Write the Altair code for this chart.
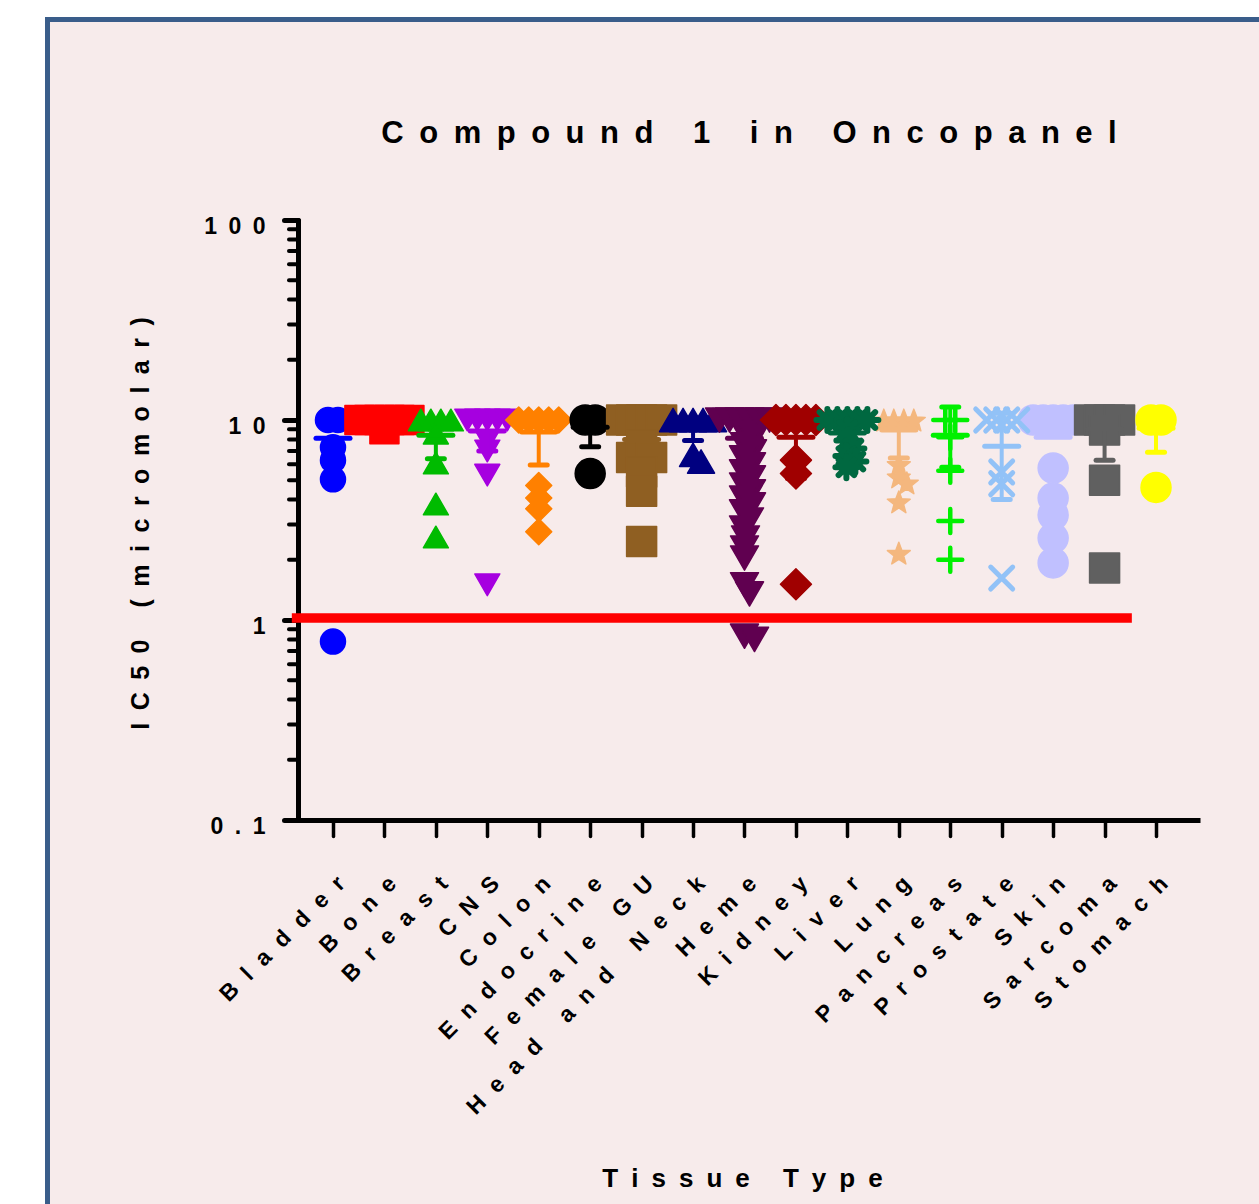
import json
import math
import altair as alt
import pandas as pd

# ---------------- data ----------------
categories = ["Bladder", "Bone", "Breast", "CNS", "Colon", "Endocrine", "Female GU",
              "Head and Neck", "Heme", "Kidney", "Liver", "Lung", "Pancreas",
              "Prostate", "Skin", "Sarcoma", "Stomach"]

bladder = [10, 10, 7.3, 6.3, 5.05, 0.78]
bone = [10, 10, 10, 10, 10, 10, 9.0]
breast = [10, 10, 10, 10, 8.6, 6.1, 3.8, 2.6]
cns = [10, 10, 10, 10, 10, 7.9, 7.0, 5.3, 1.5]
colon = [10, 10, 10, 10, 10, 4.7, 4.07, 3.6, 2.76]
endocrine = [10, 10, 5.4]
female_gu = [10, 10, 10, 10, 10, 7.5, 6.5, 6.5, 6.5, 5.5, 4.4, 2.47]
head_neck = [10, 10, 10, 10, 10, 6.7, 6.2]
heme = [10, 10, 10, 10, 10, 10, 8.6, 8.13, 7.5, 6.92, 6.46, 5.96, 5.5, 5.13, 4.73,
        4.37, 4.07, 3.76, 3.47, 3.16, 2.88, 2.57, 2.29, 2.04, 1.50, 1.35, 0.83, 0.80]
kidney = [10, 10, 10, 10, 10, 6.3, 5.4, 1.51]
liver = [10, 10, 10, 10, 10, 8.9, 7.9, 7.2, 6.6, 6.2, 5.8]
lung = [10, 10, 10, 10, 6.0, 5.2, 4.85, 3.9, 2.16]
pancreas = [10, 10, 8.2, 5.57, 3.13, 2.0]
prostate = [10, 10, 10, 10, 5.5, 4.8, 1.62]
skin = [10, 10, 10, 10, 10, 5.75, 4.07, 3.35, 2.57, 1.93]
sarcoma = [10, 10, 10, 10, 8.9, 5.0, 1.82]
stomach = [10, 10, 4.6]

ic50_values = [bladder, bone, breast, cns, colon, endocrine, female_gu, head_neck, heme,
               kidney, liver, lung, pancreas, prostate, skin, sarcoma, stomach]

mean_ic50 = [8.1, 9.8, 8.4, 8.8, 8.7, 9.2, 8.0, 9.0, 8.1, 8.2, 8.6, 8.9, 8.4, 7.4, 8.2, 9.0, 9.1]
err_low_ic50 = [None, None, 6.4, 7.0, 5.95, 7.35, None, 7.9, None, 5.1, None, 6.45, 5.8, 4.0, None, 6.3, 6.9]
err_high_ic50 = [None, None, None, None, None, None, None, None, None, None, None, None, 11.6, 10.8, None, None, None]

threshold_ic50 = 1.023
threshold_from_to = [-0.8, 15.53]      # in category-index units

y_major = [0.1, 1, 10, 100]
y_minor = [0.2, 0.3, 0.4, 0.5, 0.6, 0.7, 0.8, 0.9,
           2, 3, 4, 5, 6, 7, 8, 9,
           20, 30, 40, 50, 60, 70, 80, 90]

title_text = "Compound 1 in Oncopanel"
y_title_text = "IC50 (micromolar)"
x_title_text = "Tissue Type"

# ---------------- styles ----------------
FONT = "Liberation Sans, Arial, Helvetica, sans-serif"
TRI_UP = "M0,-0.866L1,0.866L-1,0.866Z"
TRI_DOWN = "M0,0.866L1,-0.866L-1,-0.866Z"
PLUS = "M-1,0L1,0M0,-1L0,1"
XMARK = "M-1,-1L1,1M-1,1L1,-1"
ASTER = "M-1,0L1,0M0,-1L0,1M-0.707,-0.707L0.707,0.707M-0.707,0.707L0.707,-0.707"


def star_path(outer=1.0, inner=0.42):
    pts = []
    for k in range(10):
        r = outer if k % 2 == 0 else inner
        a = math.radians(-90 + 36 * k)
        pts.append((r * math.cos(a), r * math.sin(a) + 0.095))
    return "M" + "L".join(f"{x:.3f},{y:.3f}" for x, y in pts) + "Z"


STAR = star_path()

# color, shape, marker width (px), filled, stroke width
style = {
    "Bladder": ("#0000ff", "circle", 25, True, 0),
    "Bone": ("#ff0000", "square", 29, True, 0),
    "Breast": ("#00bb00", TRI_UP, 25, True, 0),
    "CNS": ("#a600e0", TRI_DOWN, 25, True, 0),
    "Colon": ("#ff8000", "diamond", 26, True, 0),
    "Endocrine": ("#000000", "circle", 30, True, 0),
    "Female GU": ("#8f5f22", "square", 30, True, 0),
    "Head and Neck": ("#000080", TRI_UP, 27, True, 0),
    "Heme": ("#600050", TRI_DOWN, 28, True, 0),
    "Kidney": ("#a00000", "diamond", 31, True, 0),
    "Liver": ("#006840", ASTER, 22, False, 6),
    "Lung": ("#f4b77e", STAR, 24, True, 0),
    "Pancreas": ("#00f000", PLUS, 24, False, 4.5),
    "Prostate": ("#92c2f7", XMARK, 22, False, 5),
    "Skin": ("#c0c0ff", "circle", 30, True, 0),
    "Sarcoma": ("#606060", "square", 30, True, 0),
    "Stomach": ("#ffff00", "circle", 30, True, 0),
}

# ---------------- layout ----------------
PLOT_W, PLOT_H = 902, 600
X_DOMAIN = [-0.68, 16.855]
STEP_PX = PLOT_W / (X_DOMAIN[1] - X_DOMAIN[0])
PX_PER_DECADE = PLOT_H / 3.0
SWARM_D = 10.0

rows = []
for i, (cat, vals) in enumerate(zip(categories, ic50_values)):
    color, shape, w, filled, sw = style[cat]
    placed = []
    distinct = sorted(set(vals), reverse=True)
    for v in distinct:
        n = vals.count(v)
        yp = math.log10(v) * PX_PER_DECADE
        if n > 1:
            # identical values: a centred row
            offs = [(k - (n - 1) / 2.0) * SWARM_D for k in range(n)]
        else:
            j = 0
            found = None
            while found is None:
                for dx in ([0.0] if j == 0 else [float(j), -float(j)]):
                    if all((dx - px) ** 2 + (yp - py) ** 2 >= SWARM_D ** 2 for px, py in placed):
                        found = dx
                        break
                j += 1
            offs = [found]
        for dx in offs:
            placed.append((dx, yp))
            rows.append({"cat": cat, "x": i + dx / STEP_PX, "ic50": v, "color": color,
                         "shape": shape, "size": w * w, "filled": filled, "sw": sw})
pts = pd.DataFrame(rows)
pts_filled = pts[pts["filled"]]
pts_open = pts[~pts["filled"]]

stat = pd.DataFrame({"idx": list(range(len(categories))), "mean": mean_ic50,
                     "color": [style[c][0] for c in categories]})
seg_rows, cap_rows = [], []
for i, c in enumerate(categories):
    for v in (err_low_ic50[i], err_high_ic50[i]):
        if v is not None:
            seg_rows.append({"idx": i, "a": mean_ic50[i], "b": v, "color": style[c][0]})
            cap_rows.append({"idx": i, "v": v, "color": style[c][0]})
segs = pd.DataFrame(seg_rows)
caps = pd.DataFrame(cap_rows)


def spaced(s, sep):
    return sep.join(s)


X_SEP = "\u2002\u200a"
Y_SEP = "\u2002"
TITLE_SEP = "\u2002"
x_labels = [spaced(c, X_SEP) for c in categories]
x_label_expr = json.dumps(x_labels, ensure_ascii=False) + "[round(datum.value)]"
y_lab = {v: spaced(("0.1" if v < 1 else str(int(v))), Y_SEP) for v in y_major}
y_label_expr = (f"datum.value >= 50 ? '{y_lab[100]}' : datum.value >= 5 ? '{y_lab[10]}' : "
                f"datum.value >= 0.5 ? '{y_lab[1]}' : '{y_lab[0.1]}'")

yscale = alt.Scale(type="log", domain=[0.1, 100], nice=False)
xscale = alt.Scale(domain=X_DOMAIN, nice=False, zero=False)

x_axis = alt.Axis(values=list(range(len(categories))), labelExpr=x_label_expr,
                  labelAngle=315, labelAlign="right", labelBaseline="top",
                  labelPadding=36, labelFont=FONT, labelFontSize=23, labelFontWeight="bold",
                  labelColor="black", labelOverlap=False, labelBound=False, labelFlush=False,
                  labelLimit=0,
                  tickSize=16, tickWidth=3.5, tickColor="black", tickCap="round",
                  domainColor="black", domainWidth=5, grid=False,
                  title=spaced(x_title_text, TITLE_SEP), titleFont=FONT, titleFontSize=26,
                  titleFontWeight="bold", titleColor="black", titleX=444, titleY=358,
                  titleAlign="center", titleBaseline="middle", titleAngle=0)
y_axis = alt.Axis(values=y_major, labelExpr=y_label_expr, labelFont=FONT, labelFontSize=23,
                  labelFontWeight="bold", labelColor="black", labelPadding=19, labelOffset=6,
                  labelBaseline="middle", labelOverlap=False, labelBound=False, labelFlush=False,
                  labelLimit=0,
                  tickSize=14, tickWidth=5, tickColor="black", tickCap="round",
                  domainColor="black", domainWidth=5, domainCap="round", grid=False,
                  title=spaced(y_title_text, TITLE_SEP), titleFont=FONT, titleFontSize=25,
                  titleFontWeight="bold", titleColor="black", titleAngle=270,
                  titleX=-158, titleY=303, titleAlign="center", titleBaseline="middle")

one = pd.DataFrame({"k": [0]})
white_top = alt.Chart(one).mark_rect(color="white").encode(
    x=alt.value(-298), x2=alt.value(961), y=alt.value(-220), y2=alt.value(-203))
white_left = alt.Chart(one).mark_rect(color="white").encode(
    x=alt.value(-298), x2=alt.value(-253), y=alt.value(-220), y2=alt.value(984))
blue_top = alt.Chart(one).mark_rect(color="#3a5d8a").encode(
    x=alt.value(-253), x2=alt.value(961), y=alt.value(-203), y2=alt.value(-198))
blue_left = alt.Chart(one).mark_rect(color="#3a5d8a").encode(
    x=alt.value(-253), x2=alt.value(-248), y=alt.value(-203), y2=alt.value(984))
title_mark = alt.Chart(pd.DataFrame({"t": [spaced(title_text, TITLE_SEP)]})).mark_text(
    font=FONT, fontSize=31, fontWeight="bold", color="black", align="center",
    baseline="alphabetic").encode(
    text="t:N", x=alt.value(PLOT_W / 2), y=alt.value(-77))

filled_pts = alt.Chart(pts_filled).mark_point(
    filled=True, opacity=1, strokeWidth=1.5, strokeJoin="round").encode(
    x=alt.X("x:Q", scale=xscale, axis=x_axis),
    y=alt.Y("ic50:Q", scale=yscale, axis=y_axis),
    color=alt.Color("color:N", scale=None),
    stroke=alt.Stroke("color:N", scale=None),
    shape=alt.Shape("shape:N", scale=None),
    size=alt.Size("size:Q", scale=None))

minor = alt.Chart(pd.DataFrame({"m": y_minor})).mark_rule(
    color="black", strokeWidth=4, strokeCap="round").encode(
    y=alt.Y("m:Q", scale=yscale, axis=y_axis), x=alt.value(-9), x2=alt.value(0))

open_pts = alt.Chart(pts_open).mark_point(
    filled=False, opacity=1, strokeCap="round", strokeJoin="round").encode(
    x=alt.X("x:Q", scale=xscale, axis=x_axis),
    y=alt.Y("ic50:Q", scale=yscale, axis=y_axis),
    color=alt.Color("color:N", scale=None),
    shape=alt.Shape("shape:N", scale=None),
    size=alt.Size("size:Q", scale=None),
    strokeWidth=alt.StrokeWidth("sw:Q", scale=None))

stems = alt.Chart(segs).mark_rule(strokeWidth=4).encode(
    x=alt.X("idx:Q", scale=xscale, axis=x_axis),
    y=alt.Y("a:Q", scale=yscale, axis=y_axis), y2="b:Q",
    color=alt.Color("color:N", scale=None))

cap_marks = alt.Chart(caps).mark_point(
    shape="stroke", filled=False, opacity=1, size=17 * 17, strokeWidth=5, strokeCap="round").encode(
    x=alt.X("idx:Q", scale=xscale, axis=x_axis),
    y=alt.Y("v:Q", scale=yscale, axis=y_axis),
    color=alt.Color("color:N", scale=None))

mean_marks = alt.Chart(stat).mark_point(
    shape="stroke", filled=False, opacity=1, size=34 * 34, strokeWidth=5, strokeCap="round").encode(
    x=alt.X("idx:Q", scale=xscale, axis=x_axis),
    y=alt.Y("mean:Q", scale=yscale, axis=y_axis),
    color=alt.Color("color:N", scale=None))

red = alt.Chart(pd.DataFrame({"x0": [threshold_from_to[0]], "x1": [threshold_from_to[1]],
                              "v": [threshold_ic50]})).mark_rule(
    color="#ff0000", strokeWidth=9.5).encode(
    x=alt.X("x0:Q", scale=xscale, axis=x_axis), x2="x1:Q",
    y=alt.Y("v:Q", scale=yscale, axis=y_axis))

chart = alt.layer(
    filled_pts, minor, open_pts, stems, cap_marks, mean_marks, red,
    white_top, white_left, blue_top, blue_left, title_mark
).properties(
    width=PLOT_W, height=PLOT_H,
    padding={"left": 298, "top": 220, "right": 59, "bottom": 384},
    autosize=alt.AutoSizeParams(type="none"),
    background="#f7ebeb",
).configure_view(strokeWidth=0)

chart.save("out.html", embed_options={"renderer": "svg", "actions": False})
